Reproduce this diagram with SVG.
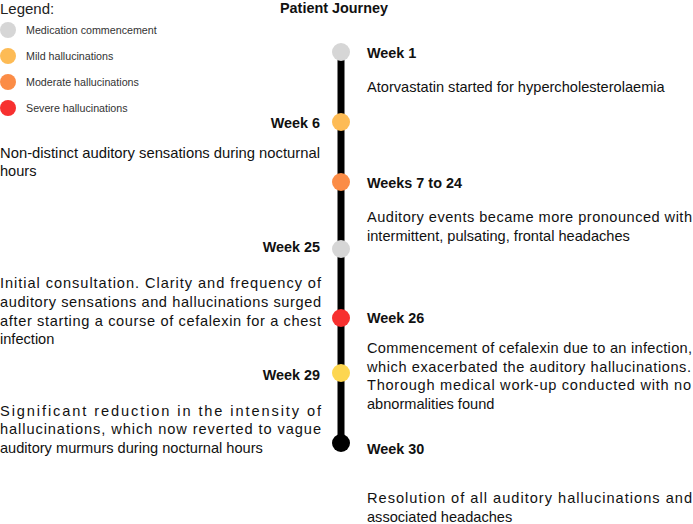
<svg xmlns="http://www.w3.org/2000/svg" width="693" height="524" viewBox="0 0 693 524">
<style>
text{font-family:"Liberation Sans",Arial,sans-serif;fill:#111}
.t{font-size:14.4px;font-weight:bold}
.b{font-size:14.6px}
.lg{font-size:10.7px;fill:#333}
.r{text-anchor:end}
</style>
<rect width="693" height="524" fill="#fff"/>
<g id="legend">
<text x="0" y="14" style="font-size:15px;fill:#222">Legend:</text>
<circle cx="8" cy="30" r="8" fill="#d6d6d6"/><text class="lg" x="26" y="34">Medication commencement</text>
<circle cx="8" cy="56" r="8" fill="#fdbb55"/><text class="lg" x="26" y="60">Mild hallucinations</text>
<circle cx="8" cy="82" r="8" fill="#fb8c46"/><text class="lg" x="26" y="86">Moderate hallucinations</text>
<circle cx="8" cy="108" r="8" fill="#f7302f"/><text class="lg" x="26" y="112">Severe hallucinations</text>
</g>
<text class="t" x="280" y="13">Patient Journey</text>
<g id="connectors">
<line x1="341" y1="52" x2="341" y2="443" stroke="#000" stroke-width="7"/>
</g>
<g id="week1">
<circle cx="341" cy="52" r="9" fill="#d6d6d6"/>
<text class="t" x="367" y="58">Week 1</text>
<text class="b" x="367" y="92">Atorvastatin started for hypercholesterolaemia</text>
</g>
<g id="week6">
<circle cx="341" cy="122" r="9" fill="#fdbb55"/>
<text class="t r" x="320" y="128">Week 6</text>
<text class="b" x="0" y="158" textLength="320" lengthAdjust="spacingAndGlyphs">Non-distinct auditory sensations during nocturnal</text>
<text class="b" x="0" y="176">hours</text>
</g>
<g id="week7to24">
<circle cx="341" cy="182" r="9" fill="#fb8c46"/>
<text class="t" x="367" y="188">Weeks 7 to 24</text>
<text class="b" x="367" y="222" textLength="325" lengthAdjust="spacing">Auditory events became more pronounced with</text>
<text class="b" x="367" y="241">intermittent, pulsating, frontal headaches</text>
</g>
<g id="week25">
<circle cx="341" cy="249" r="9" fill="#d6d6d6"/>
<text class="t r" x="320" y="252">Week 25</text>
<text class="b" x="0" y="288" textLength="321" lengthAdjust="spacing">Initial consultation. Clarity and frequency of</text>
<text class="b" x="0" y="307" textLength="321" lengthAdjust="spacing">auditory sensations and hallucinations surged</text>
<text class="b" x="0" y="326" textLength="321" lengthAdjust="spacing">after starting a course of cefalexin for a chest</text>
<text class="b" x="0" y="344">infection</text>
</g>
<g id="week26">
<circle cx="341" cy="318" r="9" fill="#f7302f"/>
<text class="t" x="367" y="323">Week 26</text>
<text class="b" x="367" y="353" textLength="325" lengthAdjust="spacing">Commencement of cefalexin due to an infection,</text>
<text class="b" x="367" y="372" textLength="324" lengthAdjust="spacing">which exacerbated the auditory hallucinations.</text>
<text class="b" x="367" y="390" textLength="324" lengthAdjust="spacing">Thorough medical work-up conducted with no</text>
<text class="b" x="367" y="409">abnormalities found</text>
</g>
<g id="week29">
<circle cx="341" cy="373" r="9" fill="#fdd650"/>
<text class="t r" x="320" y="380">Week 29</text>
<text class="b" x="0" y="416" textLength="321" lengthAdjust="spacing">Significant reduction in the intensity of</text>
<text class="b" x="0" y="434" textLength="321" lengthAdjust="spacing">hallucinations, which now reverted to vague</text>
<text class="b" x="0" y="453">auditory murmurs during nocturnal hours</text>
</g>
<g id="week30">
<circle cx="341" cy="443" r="9" fill="#000"/>
<text class="t" x="367" y="454">Week 30</text>
<text class="b" x="367" y="503" textLength="325" lengthAdjust="spacing">Resolution of all auditory hallucinations and</text>
<text class="b" x="367" y="522">associated headaches</text>
</g>
</svg>
